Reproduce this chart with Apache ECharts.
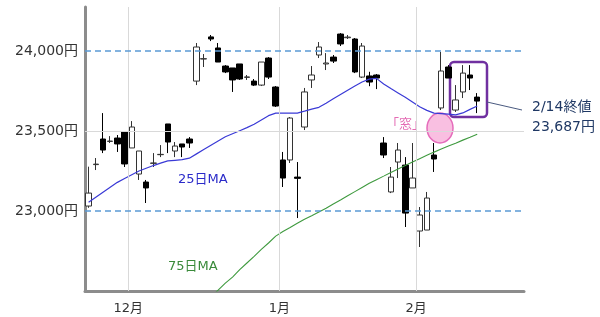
<!DOCTYPE html>
<html>
<head>
<meta charset="utf-8">
<script src="https://cdn.jsdelivr.net/npm/echarts@6/dist/echarts.min.js"></script>
<style>html,body{margin:0;padding:0;background:#fff}#c{width:600px;height:317px}</style>
</head>
<body>
<div id="c"></div>
<script>
const dates = ['11/22','11/25','11/26','11/27','11/28','11/29','12/2','12/3','12/4','12/5','12/6','12/9','12/10','12/11','12/12','12/13','12/16','12/17','12/18','12/19','12/20','12/23','12/24','12/25','12/26','12/27','12/30','1/6','1/7','1/8','1/9','1/10','1/14','1/15','1/16','1/17','1/20','1/21','1/22','1/23','1/24','1/27','1/28','1/29','1/30','1/31','2/3','2/4','2/5','2/6','2/7','2/10','2/12','2/13','2/14','2/17','2/18','2/19','2/20','2/21','2/25'];
const openVals  = [23031,23290,23450,23435,23456,23494,23394,23231,23181,23298,23352,23544,23375,23419,23450,23812,23950,24088,24019,23906,23894,23919,23835,23812,23787,23956,23775,23319,23319,23212,23525,23819,23975,23919,23962,24106,24083,24075,23837,23844,23850,23425,23119,23306,23287,23144,22875,22881,23350,23644,23900,23631,23744,23850,23712];
const closeVals = [23112,23293,23381,23437,23419,23294,23525,23375,23144,23300,23354,23431,23406,23400,23425,24025,23952,24075,23931,23869,23819,23825,23838,23787,23931,23837,23656,23206,23581,23204,23744,23850,24025,23925,23937,24044,24087,23869,24031,23806,23831,23350,23212,23381,22987,23206,22975,23081,23325,23875,23831,23694,23862,23831,23687];
const lowVals   = [23020,23256,23362,23425,23369,23275,23394,23194,23050,23275,23337,23362,23337,23337,23394,23787,23900,24062,23931,23862,23744,23819,23819,23781,23781,23825,23650,23150,23300,22956,23506,23769,23956,23881,23925,24031,24075,23862,23831,23780,23762,23331,23112,23206,22900,23144,22775,22881,23244,23631,23831,23619,23706,23756,23612];
const highVals  = [23277,23331,23612,23468,23475,23494,23562,23375,23194,23362,23412,23544,23431,23419,23462,24050,23981,24100,24050,23912,23894,23919,23850,23825,23931,23962,23781,23369,23587,23306,23769,23906,24056,23987,23975,24112,24100,24081,24050,23870,23856,23462,23275,23425,23337,23425,23025,23119,23425,23994,23912,23787,23912,23912,23737];
const ma25 = [23055,23086,23117,23148,23179,23203,23227,23250,23267,23284,23299,23313,23317,23321,23330,23357,23384,23411,23438,23464,23483,23502,23521,23542,23569,23596,23612,23612,23612,23612,23624,23637,23648,23674,23701,23728,23755,23781,23806,23824,23829,23794,23765,23738,23711,23682,23652,23629,23612,23609,23606,23601,23613,23635,23656];
const ma75 = [null,null,null,null,null,null,null,null,null,null,null,null,null,null,null,null,22419,22462,22506,22549,22587,22633,22675,22717,22760,22800,22843,22872,22897,22923,22949,22971,22994,23017,23044,23069,23095,23121,23147,23173,23196,23218,23241,23263,23284,23306,23327,23348,23368,23387,23406,23424,23443,23461,23480];
const monthStarts = ['12/2','1/6','2/3'];
const monthLabels = ['12月','1月','2月'];
const yLabelValues = [23000,23500,24000];
const refLines = [24000,23000];
const midLine = 23500;

const candleData = openVals.map((o,i)=>[o, closeVals[i], lowVals[i], highVals[i]]);
const FONT = "'DejaVu Sans','Noto Sans CJK JP',sans-serif";
const isMonthStart = (idx) => monthStarts.indexOf(dates[idx]) >= 0;
const monthBoundaries = monthStarts.map(d => dates.indexOf(d));

const chart = echarts.init(document.getElementById('c'), null, {renderer:'canvas'});
chart.setOption({
  animation:false,
  backgroundColor:'#fff',
  grid:{left:85,right:76,top:7,bottom:26,containLabel:false},
  xAxis:[{
    type:'category', data:dates, boundaryGap:true,
    axisLine:{show:true,lineStyle:{color:'#8c8c8c',width:3}},
    axisTick:{show:false},
    axisLabel:{
      interval:(idx)=>isMonthStart(idx),
      formatter:(v)=>{const k=monthStarts.indexOf(v);return k>=0?monthLabels[k]:'';},
      color:'#333', fontFamily:FONT, fontSize:13, margin:11, padding:[0,7,0,0]
    },
    splitLine:{show:false}
  },{
    type:'value', min:0, max:dates.length, show:false
  }],
  yAxis:{
    type:'value', min:22500, max:24275, interval:500, offset:2,
    axisLine:{show:true,lineStyle:{color:'#8c8c8c',width:3}},
    axisTick:{show:false},
    splitLine:{show:false},
    axisLabel:{
      formatter:(v)=> yLabelValues.indexOf(v)>=0 ? v.toLocaleString('en-US')+'円' : '',
      color:'#333', fontFamily:FONT, fontSize:14, margin:5
    }
  },
  series:[
    {
      type:'line', xAxisIndex:1, data:[], z:1,
      markLine:{
        silent:true, symbol:'none', label:{show:false},
        lineStyle:{color:'#d9d9d9',type:'solid',width:1},
        data: monthBoundaries.map(b=>({xAxis:b}))
      }
    },
    {
      type:'candlestick', data:candleData, barWidth:6,
      itemStyle:{color:'#ffffff',color0:'#000000',borderColor:'#333333',borderColor0:'#000000',borderWidth:1},
      markLine:{
        silent:true, symbol:'none', label:{show:false},
        data:[
          {yAxis:refLines[0], lineStyle:{color:'#5b9bd5',type:[6,4],width:1.5}},
          {yAxis:refLines[1], lineStyle:{color:'#5b9bd5',type:[6,4],width:1.5}},
          {yAxis:midLine, lineStyle:{color:'#d9d9d9',type:'solid',width:1}}
        ]
      },
      z:3
    },
    {type:'line', data:ma25, showSymbol:false, lineStyle:{color:'#3a3ad6',width:1.2}, z:4},
    {type:'line', data:ma75, showSymbol:false, lineStyle:{color:'#3f9a3f',width:1.1}, z:4, clip:true}
  ],
  graphic:[
    {type:'text', x:178, y:180, style:{text:'25日MA', fill:'#2b2bc9', font:'13px '+FONT, verticalAlign:'middle'}},
    {type:'text', x:168, y:267, style:{text:'75日MA', fill:'#3a8a3a', font:'13px '+FONT, verticalAlign:'middle'}},
    {type:'ellipse', shape:{cx:440,cy:128,rx:13,ry:15}, style:{fill:'#f9bfe1',stroke:'#e56cbb',lineWidth:1.5}},
    {type:'text', x:386, y:125, style:{text:'「窓」', fill:'#e46cb4', font:'13px '+FONT, verticalAlign:'middle'}},
    {type:'rect', shape:{x:450,y:62,width:37,height:55,r:4}, style:{fill:'none',stroke:'#7030a0',lineWidth:2.5}},
    {type:'line', shape:{x1:487,y1:102,x2:522,y2:110}, style:{stroke:'#4a5a80',lineWidth:1}},
    {type:'text', x:532, y:107, style:{text:'2/14終値', fill:'#1f3864', font:'14px '+FONT, verticalAlign:'middle'}},
    {type:'text', x:532, y:127, style:{text:'23,687円', fill:'#1f3864', font:'14px '+FONT, verticalAlign:'middle'}}
  ]
});
</script>
</body>
</html>
